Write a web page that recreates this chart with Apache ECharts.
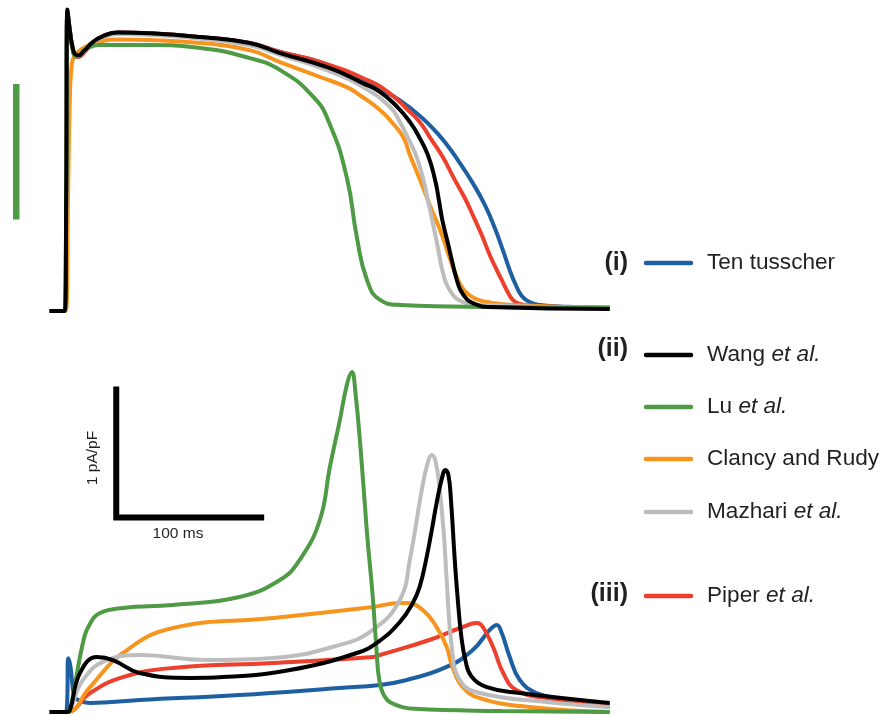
<!DOCTYPE html>
<html><head><meta charset="utf-8">
<script src="https://cdn.jsdelivr.net/npm/echarts@6/dist/echarts.min.js"></script>
<style>html,body{margin:0;padding:0;background:#fff}#c{width:884px;height:715px}</style>
</head><body><div id="c"></div>
<script>
// ---- legend / model info ----
const models = ['Ten tusscher', 'Wang', 'Lu', 'Clancy and Rudy', 'Mazhari', 'Piper'];
const etAl = [false, true, true, false, true, true];
const groupLabels = ['(i)', '(ii)', '', '', '', '(iii)'];
const colors = ['#1d5fa1', '#000000', '#4f9a44', '#f7941d', '#bdbdbd', '#ec3f2c'];

// ---- action potentials: [time (ms), membrane potential (mV)] ----
const apTenTusscher = [[-12,-85.4],[-1.5,-85.4],[-0.5,-40],[0.3,27],[2,20],[4,13],[6,10.3],[8,10.2],[12,12],[18,15.5],[25,18],[35,19.3],[57,19],[92,17.6],[126,15.4],[147,12.0],[175,8.2],[204,1.5],[222.8,-3.8],[238.6,-9.8],[250.3,-15.5],[260.7,-21.8],[271,-29.7],[280,-37.3],[288.3,-45.5],[295.2,-54.2],[300.7,-62.4],[305.5,-70],[309.7,-75.6],[313.8,-79.7],[319.3,-82],[326.2,-83.1],[345,-83.8],[374.5,-84.2]];
const apWang = [[-12,-85.4],[-1.5,-85.4],[-0.5,-40],[0.3,28],[2,20],[4,13.5],[6,11],[8,10.8],[12,12.5],[18,15.8],[25,18],[35,19.3],[57,19],[92,17.6],[126,15.4],[147,11.6],[181,6],[204,0.3],[215.9,-3.0],[228,-8.7],[236.6,-14.3],[243,-20],[249,-26.7],[254,-36.1],[256.6,-43.6],[259,-51.2],[262.8,-59.8],[266,-67.3],[269,-73.7],[271.5,-77.5],[276,-81],[280,-82.4],[290,-83.9],[374.5,-84.6]];
const apLu = [[-12,-85.4],[-1.5,-85.4],[-0.5,-40],[0.3,27],[2,20],[4,13],[6,10.3],[8,10.5],[12,12.7],[22.8,14.6],[57,14.6],[92,13.5],[126,9.7],[147,5.2],[170,-4.9],[181,-14.7],[193,-35],[200,-57.6],[207,-73.7],[216,-81.2],[230,-83.1],[299,-83.9],[374.5,-84.2]];
const apClancy = [[-12,-85.4],[-1,-85.4],[0.8,-40],[2,-5],[3.5,8],[6,11],[10,13],[20,15.5],[35,16.7],[57,16.5],[92,15.4],[126,12.7],[147,8.2],[175,2.5],[193,-1.2],[202,-4.2],[216,-9.8],[224,-14.3],[232,-20],[236.6,-26.7],[241.4,-33.1],[246.9,-40.6],[251.7,-47.4],[255.2,-51.9],[259.3,-57.6],[264.1,-65.5],[269,-72.6],[272.4,-76.4],[275.9,-78.6],[282,-80.8],[290,-82],[308,-83.1],[374.5,-84.2]];
const apMazhari = [[-12,-85.4],[-1.5,-85.4],[-0.5,-40],[0.3,27],[2,20],[4,13],[6,10.5],[8,10.5],[12,12.3],[18,15.5],[25,17.6],[35,18.8],[57,18.5],[92,17],[126,14.5],[147,10.9],[181,4.8],[205,-1.5],[223,-8.7],[229.7,-14.3],[235,-20],[239,-24.5],[242,-28.6],[246,-36.1],[249,-43.6],[252,-51.2],[256,-61.7],[259,-70],[264,-77.5],[273,-82],[283,-83.1],[374.5,-84.2]];
const apPiper = [[-12,-85.4],[-1.5,-85.4],[-0.5,-40],[0.3,27],[2,20],[4,13],[6,10.3],[8,10.2],[12,12],[18,15.5],[25,18],[35,19.3],[57,19],[92,17.6],[126,15.4],[147,12],[175,8.2],[207,1.5],[221.4,-3.0],[235.2,-9.8],[243.4,-14.3],[250.3,-20],[259.3,-27.5],[267.6,-36.1],[274.5,-42.9],[280,-49.3],[286.2,-56.8],[291.7,-64.3],[296.6,-70],[300.7,-74.5],[304.1,-78.2],[307.6,-81.2],[312.4,-82.7],[321.4,-83.5],[374.5,-84.2]];

// ---- currents: [time (ms), current (pA/pF)] ----
const iTenTusscher = [[-12,0],[-1.4,0],[0,0.05],[0.9,0.42],[2.5,0.35],[5,0.12],[7.8,0.094],[15.9,0.07],[50,0.094],[119,0.133],[188,0.1875],[216,0.211],[234.5,0.25],[262,0.352],[280,0.484],[291.7,0.641],[296.6,0.68],[300,0.617],[305.5,0.43],[312.4,0.25],[324,0.148],[345,0.094],[374.5,0.039]];
const iWang = [[-12,0],[0,0],[2.1,0.016],[9,0.305],[20.7,0.43],[31.7,0.406],[50,0.305],[85,0.266],[107.6,0.273],[153.8,0.328],[200,0.461],[215,0.55],[229.7,0.703],[238.6,0.852],[243.4,0.98],[248,1.2],[251.7,1.42],[255,1.63],[258.6,1.82],[261,1.89],[263.2,1.85],[265,1.65],[267.5,1.2],[269.5,0.9],[272,0.6],[275,0.4],[279,0.28],[289.7,0.195],[312.4,0.148],[374.5,0.07]];
const iLu = [[-12,0],[0,0],[2.1,0.016],[11,0.539],[15.9,0.69],[22.8,0.773],[38.6,0.8125],[73,0.836],[119,0.898],[146.9,1.031],[160.7,1.19],[174.5,1.5],[181.4,1.914],[188.3,2.281],[193.1,2.555],[196.6,2.656],[199,2.5],[203,2.0],[207,1.4],[211,0.9],[213.5,0.5],[215.5,0.25],[219.3,0.12],[226,0.06],[240,0.025],[300,0.008],[374.5,0]];
const iClancy = [[-12,0],[0,0],[15.9,0.195],[38.6,0.461],[73,0.656],[142,0.734],[211,0.82],[229.7,0.852],[234.5,0.852],[245.5,0.797],[255,0.664],[262,0.508],[266,0.352],[273,0.195],[284.8,0.109],[319,0.039],[374.5,0]];
const iMazhari = [[-12,0],[0,0],[2.1,0.016],[11,0.25],[27.6,0.406],[50,0.445],[96.6,0.406],[142,0.422],[188,0.523],[211,0.641],[229.7,0.875],[236.6,1.19],[244.8,1.734],[249,1.95],[251.7,2.008],[254.5,1.95],[257.2,1.734],[260,1.4],[262,1.031],[265.5,0.508],[271,0.25],[284.8,0.148],[331,0.078],[374.5,0.039]];
const iPiper = [[-12,0],[0,0],[15.9,0.148],[38.6,0.273],[73,0.344],[142,0.383],[211,0.43],[216,0.445],[250,0.5625],[273,0.664],[283,0.695],[287,0.664],[294,0.508],[301,0.305],[310,0.172],[331,0.109],[374.5,0.055]];

// ---- scale bars ----
const scaleBarAP = [[-35, 0], [-35, -51]];               // mV
const scaleBarCurrent = [[34, 2.52], [34, 1.52], [134, 1.52]]; // 1 pA/pF, 100 ms
const scaleLabelCurrent = '1 pA/pF';
const scaleLabelTime = '100 ms';

const apData = [apTenTusscher, apWang, apLu, apClancy, apMazhari, apPiper];
const iData = [iTenTusscher, iWang, iLu, iClancy, iMazhari, iPiper];
const drawOrder = [0, 5, 3, 4, 2, 1];

const chart = echarts.init(document.getElementById('c'), null, {renderer: 'canvas'});
const FONT = '"Liberation Sans", Arial, sans-serif';
const TXT = '#231f20';

const series = [];
drawOrder.forEach((k, n) => {
  series.push({type: 'line', name: models[k], xAxisIndex: 0, yAxisIndex: 0, data: apData[k],
    showSymbol: false, smooth: 0.5, clip: false, z: 2 + n,
    lineStyle: {color: colors[k], width: 4}, itemStyle: {color: colors[k]}, silent: true, animation: false});
  series.push({type: 'line', name: models[k] + ' current', xAxisIndex: 1, yAxisIndex: 1, data: iData[k],
    showSymbol: false, smooth: 0.45, clip: false, z: 2 + n,
    lineStyle: {color: colors[k], width: 4}, itemStyle: {color: colors[k]}, silent: true, animation: false});
});
series.push({type: 'line', xAxisIndex: 0, yAxisIndex: 0, data: scaleBarAP, showSymbol: false, clip: false,
  lineStyle: {color: '#4f9a44', width: 6.5, cap: 'butt'}, silent: true, animation: false});
series.push({type: 'line', xAxisIndex: 1, yAxisIndex: 1, data: scaleBarCurrent, showSymbol: false, clip: false,
  lineStyle: {color: '#000', width: 6, cap: 'square', join: 'miter'}, silent: true, animation: false});

// legend graphics
const rowY = [263, 355, 407, 459, 512, 596];
const groupY = [263, 349, 0, 0, 0, 594];
const graphic = [];
models.forEach((m, k) => {
  graphic.push({type: 'line', shape: {x1: 646, y1: rowY[k], x2: 691, y2: rowY[k]},
    style: {stroke: colors[k], lineWidth: 4.5, lineCap: 'round'}, silent: true});
  graphic.push({type: 'text', x: 707, y: rowY[k],
    style: {text: etAl[k] ? '{n|' + m + ' }{i|et al.}' : '{n|' + m + '}', verticalAlign: 'middle', align: 'left',
      rich: {n: {fontFamily: FONT, fontSize: 22.6, fill: TXT, color: TXT},
             i: {fontFamily: FONT, fontSize: 22.6, fontStyle: 'italic', fill: TXT, color: TXT}}}, silent: true});
  if (groupLabels[k]) {
    graphic.push({type: 'text', x: 628, y: groupY[k],
      style: {text: groupLabels[k], fontFamily: FONT, fontWeight: 'bold', fontSize: 25, fill: TXT,
        align: 'right', verticalAlign: 'middle'}, silent: true});
  }
});
graphic.push({type: 'text', x: 178, y: 534,
  style: {text: scaleLabelTime, fontFamily: FONT, fontSize: 15.5, fill: TXT, align: 'center', verticalAlign: 'middle'}, silent: true});
graphic.push({type: 'text', x: 93, y: 458, rotation: Math.PI / 2,
  style: {text: scaleLabelCurrent, fontFamily: FONT, fontSize: 15.5, fill: TXT, align: 'center', verticalAlign: 'middle'}, silent: true});

chart.setOption({
  backgroundColor: '#fff',
  animation: false,
  grid: [
    {left: 9, width: 600, top: 4.1, height: 319.2},
    {left: 9, width: 600, top: 353.6, height: 360.96}
  ],
  xAxis: [
    {type: 'value', gridIndex: 0, min: -40, max: 374, show: false},
    {type: 'value', gridIndex: 1, min: -40, max: 374, show: false}
  ],
  yAxis: [
    {type: 'value', gridIndex: 0, min: -90, max: 30, show: false},
    {type: 'value', gridIndex: 1, min: -0.02, max: 2.8, show: false}
  ],
  series: series,
  graphic: graphic
});
</script></body></html>
